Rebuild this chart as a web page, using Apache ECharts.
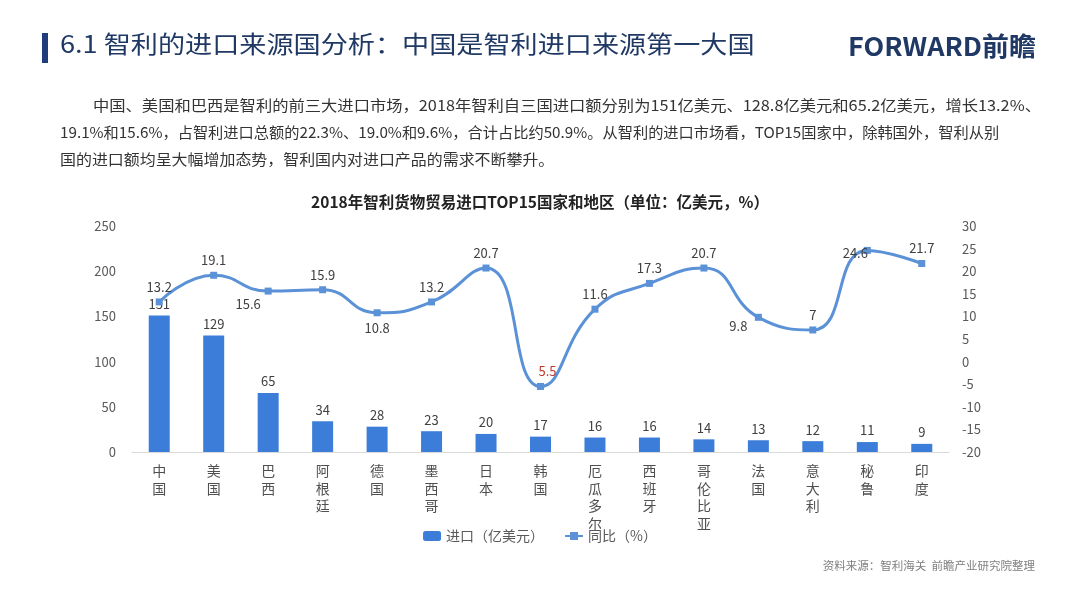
<!DOCTYPE html>
<html><head><meta charset="utf-8">
<script src="https://cdn.jsdelivr.net/npm/echarts@6/dist/echarts.min.js"></script>
<style>html,body{margin:0;padding:0;background:#fff}#c{width:1080px;height:595px}</style>
</head><body><div id="c"></div>
<script>
const categories = ['中国','美国','巴西','阿根廷','德国','墨西哥','日本','韩国','厄瓜多尔','西班牙','哥伦比亚','法国','意大利','秘鲁','印度'];
const importValues = [151,128.8,65.2,34,28,23,20,17,16,16,14,13,12,11,9];
const yoyValues = [13.2,19.1,15.6,15.9,10.8,13.2,20.7,-5.5,11.6,17.3,20.7,9.8,7,24.6,21.7];
const pageTitle = '6.1 智利的进口来源国分析：中国是智利进口来源第一大国';
const chartTitle = '2018年智利货物贸易进口TOP15国家和地区（单位：亿美元，%）';
const paragraph = [
  '中国、美国和巴西是智利的前三大进口市场，2018年智利自三国进口额分别为151亿美元、128.8亿美元和65.2亿美元，增长13.2%、',
  '19.1%和15.6%，占智利进口总额的22.3%、19.0%和9.6%，合计占比约50.9%。从智利的进口市场看，TOP15国家中，除韩国外，智利从别',
  '国的进口额均呈大幅增加态势，智利国内对进口产品的需求不断攀升。'
];
const sourceText = '资料来源：智利海关  前瞻产业研究院整理';
const legendNames = ['进口（亿美元）','同比（%）'];

const FONT = '"Noto Sans CJK SC","Noto Sans",sans-serif';
const lblPos = {2:['bottom',[-20,-2]],4:['bottom',[0,0]],11:['bottom',[-20,-6]],13:['bottom',[-12,-12]],7:['top',[7,0]]};

const lineData = yoyValues.map((v,i)=>{
  const d = {value:v};
  const p = lblPos[i];
  const lab = {};
  if (p){ lab.position=p[0]; lab.offset=p[1]; }
  if (v<0) lab.color='#c0392b';
  d.label = lab;
  return d;
});

const chart = echarts.init(document.getElementById('c'));
const paraScale = [1.086, 1.015, 1.063];
const paraGraphics = paragraph.map((t,i)=>({
  type:'text', x: i===0?93:60, y: 98+i*27, scaleX: paraScale[i],
  style:{text:t, font:'15px '+FONT, fill:'#333'}
}));
chart.setOption({
  textStyle:{fontFamily:FONT},
  graphic:[
    {type:'rect', shape:{x:42,y:33,width:6,height:30}, style:{fill:'#1f3d7a'}},
    {type:'text', x:60, y:32, scaleX:1.13, style:{text:pageTitle, font:'24px '+FONT, fill:'#1f3864'}},
    {type:'text', x:848, y:33, scaleX:1.035, style:{text:'FORWARD前瞻', font:'bold 26px '+FONT, fill:'#1f3864'}},
    ...paraGraphics,
    {type:'text', right:45, top:560, style:{text:sourceText, font:'11.5px '+FONT, fill:'#7f7f7f'}}
  ],
  title:{text:chartTitle, left:'center', top:189, textStyle:{fontSize:15.5,fontWeight:'bold',color:'#222',fontFamily:FONT}},
  legend:{top:524, left:'center', itemWidth:18, itemHeight:10, itemGap:20,
    textStyle:{fontSize:14,color:'#595959'}, data:legendNames},
  grid:{left:132, right:131, top:226, bottom:143},
  xAxis:{type:'category', data:categories,
    axisLine:{lineStyle:{color:'#d9d9d9'}}, axisTick:{show:false},
    axisLabel:{interval:0, margin:10, fontSize:14, lineHeight:17.5, color:'#505050',
      formatter:n=>n.split('').join('\n')}},
  yAxis:[
    {type:'value', min:0, max:250, interval:50, splitLine:{show:false},
     axisLabel:{fontSize:13,color:'#595959',margin:16}},
    {type:'value', min:-20, max:30, interval:5, splitLine:{show:false},
     axisLabel:{fontSize:13,color:'#595959',margin:13}}
  ],
  series:[
    {name:legendNames[0], type:'bar', data:importValues, barWidth:21, yAxisIndex:0,
     itemStyle:{color:'#3b7dd8'},
     label:{show:true, position:'top', fontSize:13, color:'#404040', formatter:p=>Math.round(p.value)}},
    {name:legendNames[1], type:'line', data:lineData, yAxisIndex:1, smooth:0.5,
     symbol:'rect', symbolSize:7, lineStyle:{width:3,color:'#5b91d6'}, itemStyle:{color:'#5b91d6'},
     label:{show:true, position:'top', fontSize:13, color:'#404040', formatter:p=>String(Math.abs(p.value))}}
  ]
});
</script></body></html>
